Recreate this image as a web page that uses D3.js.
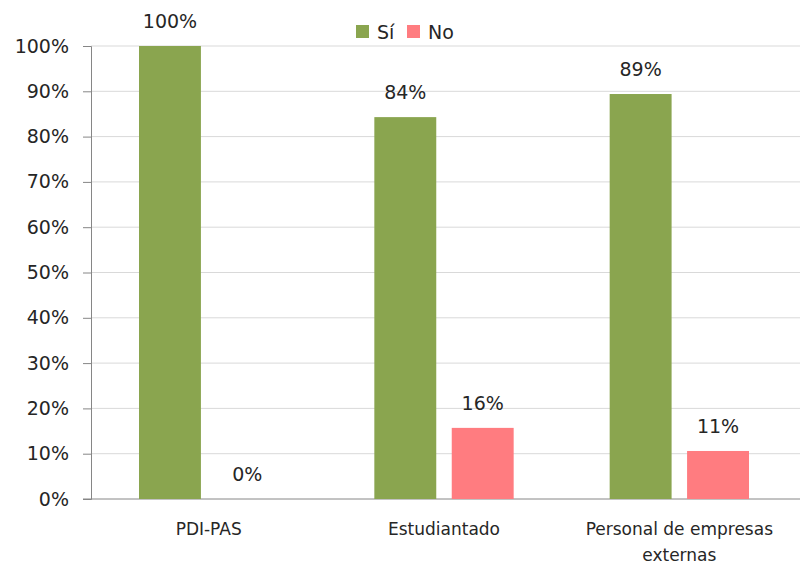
<!doctype html>
<html lang="es">
<head>
<meta charset="utf-8">
<title>Sí / No por colectivo</title>
<style>
  body { margin: 0; background: #fff; font-family: "DejaVu Sans", sans-serif; }
  svg text { fill: #262626; font-family: "DejaVu Sans", sans-serif; }
</style>
</head>
<body>
<svg id="chart" width="800" height="566"></svg>
<script src="https://d3js.org/d3.v7.min.js"></script>
<script>
// data
var categories = ["PDI-PAS", "Estudiantado", "Personal de empresas externas"];
var series = ["Sí", "No"];
var siValues = [100, 84.3, 89.4];
var noValues = [0, 15.7, 10.6];
var yTicks = [0, 10, 20, 30, 40, 50, 60, 70, 80, 90, 100];
var colours = ["#8aa54f", "#ff7c80"];

var svg = d3.select("#chart");
var margin = { top: 46, right: 0, bottom: 67, left: 91 };
var width = 800 - margin.left - margin.right;
var height = 566 - margin.top - margin.bottom;
var plotW = 706; // category bands stop a little short of the right edge

var g = svg.append("g").attr("transform", "translate(" + margin.left + "," + margin.top + ")");

var x0 = d3.scaleBand().domain(categories).range([0, plotW]);
var x1 = d3.scaleBand().domain(series).range([48, x0.bandwidth() - 48]).paddingInner(0.2);
var y = d3.scaleLinear().domain([0, 100]).range([height, 0]);

// gridlines
g.selectAll(".grid").data(yTicks.slice(1)).enter().append("line")
  .attr("x1", 0).attr("x2", width)
  .attr("y1", function (d) { return y(d); }).attr("y2", function (d) { return y(d); })
  .style("stroke", "#d9d9d9").style("stroke-width", 1);

// y axis
var yAxis = d3.axisLeft(y).tickValues(yTicks).tickFormat(function (d) { return d + "%"; })
  .tickSize(8).tickPadding(14);
var ya = g.append("g").call(yAxis);
ya.select(".domain").style("stroke", "#868686");
ya.selectAll(".tick line").style("stroke", "#868686");
ya.selectAll(".tick text").style("font-size", "19px").style("fill", "#262626")
  .style("font-family", "'DejaVu Sans', sans-serif");

// x axis line
g.append("line").attr("x1", -8).attr("x2", width).attr("y1", height).attr("y2", height)
  .style("stroke", "#868686");

var rows = categories.map(function (c, i) {
  return { cat: c, vals: [siValues[i], noValues[i]] };
});

var groups = g.selectAll(".cat").data(rows).enter().append("g")
  .attr("transform", function (d) { return "translate(" + x0(d.cat) + ",0)"; });

groups.selectAll("rect").data(function (d) {
  return d.vals.map(function (v, j) { return { s: series[j], v: v, j: j }; });
}).enter().append("rect")
  .attr("x", function (d) { return x1(d.s); })
  .attr("width", x1.bandwidth())
  .attr("y", function (d) { return y(d.v); })
  .attr("height", function (d) { return height - y(d.v); })
  .style("fill", function (d) { return colours[d.j]; });

groups.selectAll(".lbl").data(function (d) {
  return d.vals.map(function (v, j) { return { s: series[j], v: v }; });
}).enter().append("text")
  .attr("x", function (d) { return x1(d.s) + x1.bandwidth() / 2; })
  .attr("y", function (d) { return y(d.v) - 18; })
  .attr("text-anchor", "middle")
  .style("font-size", "19px")
  .text(function (d) { return Math.round(d.v) + "%"; });

// category labels (wrapped like the original)
var catLines = { "Personal de empresas externas": ["Personal de empresas", "externas"] };
groups.append("text")
  .attr("text-anchor", "middle")
  .style("font-size", "17px")
  .each(function (d) {
    var lines = catLines[d.cat] || [d.cat];
    var t = d3.select(this);
    lines.forEach(function (l, k) {
      t.append("tspan").attr("x", x0.bandwidth() / 2).attr("y", height + 36 + k * 26).text(l);
    });
  });

// legend
var legend = svg.append("g").attr("transform", "translate(356,25)");
var items = [{ s: "Sí", x: 0 }, { s: "No", x: 51 }];
items.forEach(function (it, i) {
  legend.append("rect").attr("x", it.x).attr("y", 0).attr("width", 13).attr("height", 13)
    .style("fill", colours[i]);
  legend.append("text").attr("x", it.x + 21).attr("y", 14).style("font-size", "19px").text(it.s);
});
</script>
</body>
</html>
